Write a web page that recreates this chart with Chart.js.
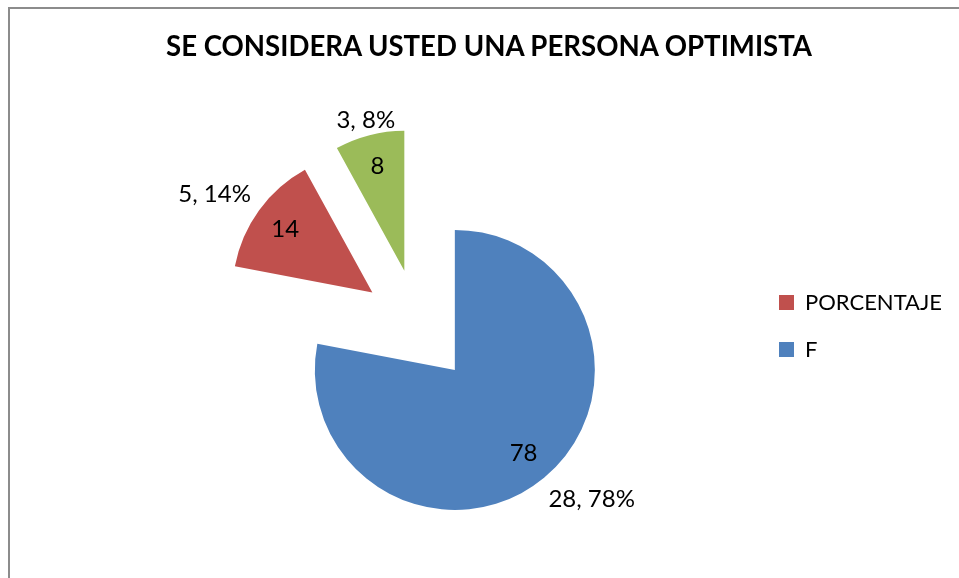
<!DOCTYPE html>
<html>
<head>
<meta charset="utf-8">
<title>SE CONSIDERA USTED UNA PERSONA OPTIMISTA</title>
<script src="https://cdn.jsdelivr.net/npm/chart.js@4/dist/chart.umd.min.js"></script>
<style>
  html, body { margin: 0; padding: 0; background: #fff; overflow: hidden; }
  #chart-wrap { position: absolute; left: 0; top: 0; width: 959px; height: 578px; }
  #chart-title {
    position: absolute; left: 19px; top: 30px; width: 940px; margin: 0;
    text-align: center; color: #000;
    font: bold 27.6px/32px Lato, "Open Sans", sans-serif;
  }
  #frame {
    position: absolute; left: 8px; top: 7px; width: 960px; height: 580px;
    border-left: 2px solid #8c8c8c; border-top: 2px solid #8c8c8c;
    pointer-events: none;
  }
</style>
</head>
<body>
<div id="chart-wrap"><canvas id="pie-chart" width="959" height="578"></canvas></div>
<h2 id="chart-title"></h2>
<div id="frame"></div>
<script>
// ==================================================================
//
// Data
//
// ==================================================================

const chartTitle = "SE CONSIDERA USTED UNA PERSONA OPTIMISTA";
const categories = ["F", "PORCENTAJE", ""];
const frequencies = [28, 5, 3];
const percentages = [78, 14, 8];
const sliceColors = ["#4F81BD", "#C0504D", "#9BBB59"];
// the legend only lists these two, red first
const legendOrder = [1, 0];

// ==================================================================
//
// Look
//
// ==================================================================

const fontFamily = "Lato, 'Open Sans', sans-serif";
const pieRadius = 140;
const explodeBy = 57;
// small turns / pulls of the outside labels, like Excel's "best fit"
const outerLabelTurn = [-7, -4, 0];
const outerLabelPull = [0, 0, -12];

document.getElementById("chart-title").textContent = chartTitle;

// ==================================================================
//
// Plugins: explode slices + draw value labels
//
// ==================================================================

const explodePlugin = {
  id: "explode",
  afterDatasetUpdate(chart, args) {
    args.meta.data.forEach((arc) => {
      let mid = (arc.startAngle + arc.endAngle) / 2;
      arc.x += Math.cos(mid) * explodeBy;
      arc.y += Math.sin(mid) * explodeBy;
    });
  },
};

const labelPlugin = {
  id: "sliceLabels",
  afterDatasetsDraw(chart) {
    let ctx = chart.ctx;
    let meta = chart.getDatasetMeta(0);
    ctx.save();
    ctx.font = "24px " + fontFamily;
    ctx.fillStyle = "#000";
    ctx.textAlign = "center";
    ctx.textBaseline = "middle";
    meta.data.forEach((arc, i) => {
      let mid = (arc.startAngle + arc.endAngle) / 2;
      let r = arc.outerRadius;

      // value inside the slice
      let inner = 0.77 * r;
      ctx.fillText(
        String(percentages[i]),
        arc.x + Math.cos(mid) * inner,
        arc.y + Math.sin(mid) * inner
      );

      // "F, %" outside the slice
      let a = mid + (outerLabelTurn[i] * Math.PI) / 180;
      let ux = Math.cos(a);
      let uy = Math.sin(a);
      let text = frequencies[i] + ", " + percentages[i] + "%";
      let w = ctx.measureText(text).width;
      let h = 20;
      let dist = r + 10 + outerLabelPull[i] + Math.abs(ux) * w / 2 + Math.abs(uy) * h / 2;
      ctx.fillText(text, arc.x + ux * dist, arc.y + uy * dist);
    });
    ctx.restore();
  },
};

// ==================================================================
//
// Chart
//
// ==================================================================

let pieCtx = document.getElementById("pie-chart").getContext("2d");

const pieChart = new Chart(pieCtx, {
  type: "pie",
  data: {
    labels: categories,
    datasets: [
      {
        data: percentages,
        backgroundColor: sliceColors,
        borderWidth: 0,
      },
    ],
  },
  options: {
    responsive: false,
    animation: false,
    radius: pieRadius,
    layout: { padding: { left: 83, right: 7, top: 74, bottom: 0 } },
    plugins: {
      tooltip: { enabled: false },
      title: { display: false },
      legend: {
        position: "right",
        align: "center",
        labels: {
          color: "#000",
          font: { family: fontFamily, size: 22 },
          boxWidth: 15,
          boxHeight: 15,
          padding: 25,
          generateLabels: () =>
            legendOrder.map((i) => ({
              text: categories[i],
              fillStyle: sliceColors[i],
              strokeStyle: sliceColors[i],
              lineWidth: 0,
              hidden: false,
              index: i,
            })),
        },
      },
    },
  },
  plugins: [explodePlugin, labelPlugin],
});
</script>
</body>
</html>
